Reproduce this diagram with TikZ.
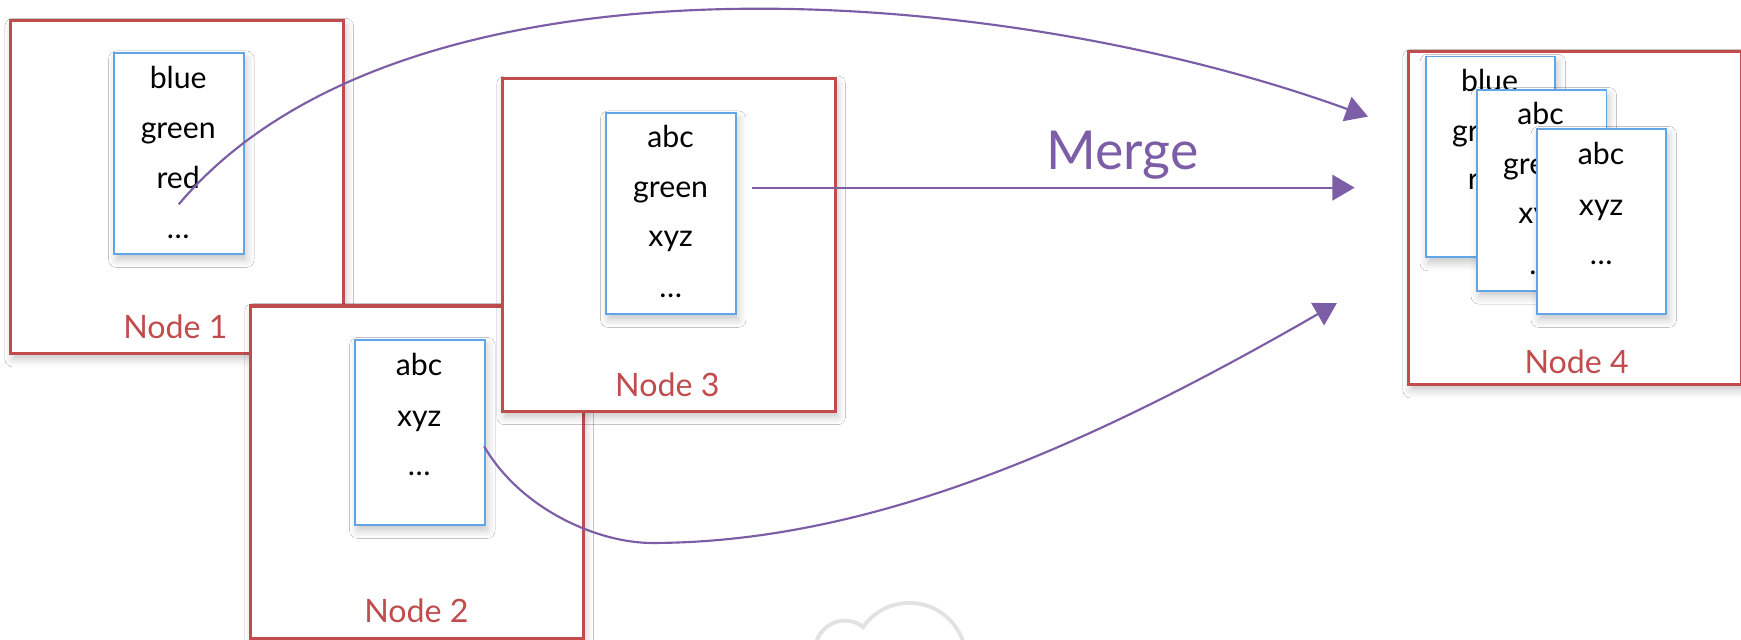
\documentclass[tikz,border=0pt]{standalone}
\usepackage{fontspec}
\setmainfont{Lato}
\usetikzlibrary{arrows.meta,shadows.blur}

\definecolor{boxred}{RGB}{192,76,78}
\definecolor{cardblue}{RGB}{98,165,230}
\definecolor{flowpurple}{RGB}{124,94,166}
\definecolor{cloudgray}{RGB}{226,226,226}

\begin{document}
\begin{tikzpicture}[x=0.02cm,y=-0.02cm,
  softshadow/.style={blur shadow={shadow xshift=0.4mm, shadow yshift=-1mm,
      shadow opacity=22, shadow blur radius=1.4mm}},
  machine/.style={draw=boxred, line width=1.7pt, fill=white, softshadow,
      anchor=north west, inner sep=0pt, minimum width=6cm, minimum height=6cm},
  card/.style={draw=cardblue, line width=1pt, fill=white, softshadow,
      anchor=north west, inner sep=0pt, minimum width=2.34cm},
  tallcard/.style={card, minimum height=3.62cm},
  shortcard/.style={card, minimum height=3.34cm},
  item/.style={font=\fontsize{15.5}{18}\selectfont, anchor=base, inner sep=0pt},
  machinelabel/.style={font=\fontsize{16.5}{20}\selectfont, text=boxred,
      anchor=base, inner sep=0pt},
  flow/.style={draw=flowpurple, line width=1.1pt,
      -{Triangle[length=0.4cm,width=0.46cm]}},
]
\clip (0,0) rectangle (1568,576);
\fill[white] (0,0) rectangle (1568,576);

% faint cloud outline at the bottom
\draw[cloudgray, line width=2pt] (761,586) circle[radius=0.54cm];
\draw[cloudgray, line width=2pt] (819,594) circle[radius=1.02cm];
\fill[white] (761,586) circle[radius=0.50cm];
\fill[white] (819,594) circle[radius=0.98cm];

% Node 1
\node[machine] (m1) at (8,17) {};
\node[tallcard] (c1) at (102,47) {};
\node[item] (c1a) at (160.5,80) {blue};
\node[item] (c1b) at (160.5,125) {green};
\node[item] (c1c) at (160.5,170) {red};
\node[item] (c1d) at (160.5,215) {\char"2026};
\node[machinelabel] (l1) at (158,305) {Node 1};

% Node 2
\node[machine] (m2) at (224,274) {};
\node[shortcard] (c2) at (319,305) {};
\node[item] (c2a) at (377.5,338) {abc};
\node[item] (c2b) at (377.5,384) {xyz};
\node[item] (c2c) at (377.5,428) {\char"2026};
\node[machinelabel] (l2) at (375,561) {Node 2};

% Node 3
\node[machine] (m3) at (451,69) {};
\node[tallcard] (c3) at (545,101) {};
\node[item] (c3a) at (604,133) {abc};
\node[item] (c3b) at (604,178) {green};
\node[item] (c3c) at (604,222) {xyz};
\node[item] (c3d) at (604,268) {\char"2026};
\node[machinelabel] (l3) at (601,357) {Node 3};

% Node 4 with the merged cards stacked
\node[machine] (m4) at (1267,45) {};
\node[tallcard] (ca) at (1283,50) {};
\node[item] (caa) at (1341.5,82) {blue};
\node[item] (cab) at (1341.5,127) {green};
\node[item] (cac) at (1341.5,171) {red};
\node[tallcard] (cb) at (1329,80) {};
\node[item] (cba) at (1387.5,112) {abc};
\node[item] (cbb) at (1387.5,157) {green};
\node[item] (cbc) at (1387.5,201) {xyz};
\node[item] (cbd) at (1387.5,247) {\char"2026};
\node[shortcard] (cc) at (1383,115) {};
\node[item] (cca) at (1442,148) {abc};
\node[item] (ccb) at (1442,194) {xyz};
\node[item] (ccc) at (1442,238) {\char"2026};
\node[machinelabel] (l4) at (1420,336) {Node 4};

% merge label
\node[font=\fontsize{27.5}{32}\selectfont, text=flowpurple, anchor=base,
      inner sep=0pt] (merge) at (1011,153) {Merge};

% connector ends
\coordinate (s1) at (161,184);
\coordinate (t1) at (1232,105);
\coordinate (s2) at (677,169);
\coordinate (t2) at (1220,169);
\coordinate (s3) at (436,402);
\coordinate (low3) at (587,489);
\coordinate (t3) at (1204,273);

\draw[flow] (s1) .. controls (365,-58) and (905,-14) .. (t1);
\draw[flow] (s2) -- (t2);
\draw[flow] (s3) .. controls (470,460) and (540,489) .. (low3)
                 .. controls (787,489) and (987,398) .. (t3);
\end{tikzpicture}
\end{document}
